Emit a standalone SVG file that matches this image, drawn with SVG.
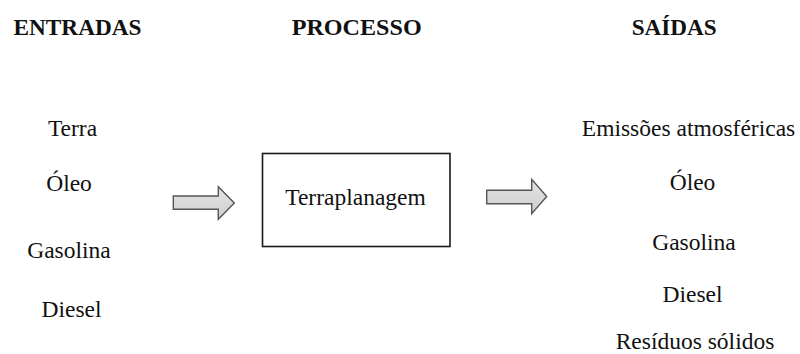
<svg xmlns="http://www.w3.org/2000/svg" width="800" height="354" viewBox="0 0 800 354">
  <defs>
    <linearGradient id="arrowFill" x1="0" y1="0" x2="0" y2="1">
      <stop offset="0" stop-color="#e4e4e4"/>
      <stop offset="1" stop-color="#cfcfcf"/>
    </linearGradient>
  </defs>
  <style>
    text { font-family: 'Liberation Serif', 'DejaVu Serif', serif; fill: #111; text-anchor: middle; }
    .head { font-weight: bold; font-size: 24px; }
    .item { font-size: 23.5px; }
    .box { fill: #fff; stroke: #1a1a1a; stroke-width: 1.6; }
    .arrow { fill: url(#arrowFill); stroke: #555; stroke-width: 1.4; stroke-linejoin: miter; }
  </style>
  <rect width="800" height="354" fill="#fff"/>

  <!-- column headings -->
  <g id="headings" font-family="Liberation Serif, serif">
    <text class="head" x="77.5" y="35" textLength="128" lengthAdjust="spacingAndGlyphs">ENTRADAS</text>
    <text class="head" x="356.7" y="35" textLength="130" lengthAdjust="spacingAndGlyphs">PROCESSO</text>
    <text class="head" x="674.2" y="35" textLength="85" lengthAdjust="spacingAndGlyphs">SAÍDAS</text>
  </g>

  <!-- inputs -->
  <g id="entradas" font-family="Liberation Serif, serif">
    <text class="item" x="72.5" y="136">Terra</text>
    <text class="item" x="69" y="190.5">Óleo</text>
    <text class="item" x="69" y="258">Gasolina</text>
    <text class="item" x="71.5" y="317">Diesel</text>
  </g>

  <!-- process -->
  <g id="processo" font-family="Liberation Serif, serif">
    <rect class="box" x="262.5" y="153.5" width="187.5" height="93"/>
    <text class="item" x="355.5" y="205">Terraplanagem</text>
  </g>

  <!-- outputs -->
  <g id="saidas" font-family="Liberation Serif, serif">
    <text class="item" x="688.5" y="136">Emissões atmosféricas</text>
    <text class="item" x="692.5" y="190">Óleo</text>
    <text class="item" x="694" y="250">Gasolina</text>
    <text class="item" x="692.5" y="301.5">Diesel</text>
    <text class="item" x="695" y="348.5">Resíduos sólidos</text>
  </g>

  <!-- flow arrows -->
  <g id="connectors">
    <path class="arrow" d="M173.3,196 H218.3 V186.7 L234.3,203 L218.3,219.3 V209.3 H173.3 Z"/>
    <path class="arrow" d="M486.7,190.3 H531.7 V179.3 L546.7,196.5 L531.7,213.7 V203.7 H486.7 Z"/>
  </g>
</svg>
